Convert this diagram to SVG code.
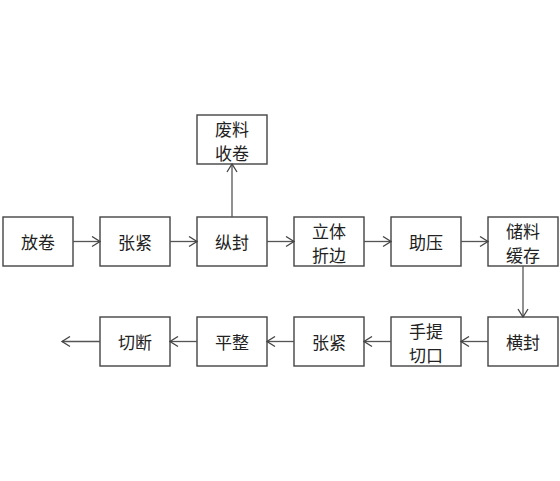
<svg xmlns="http://www.w3.org/2000/svg" width="560" height="481" viewBox="0 0 560 481">
<defs>
<marker id="ah" markerWidth="12" markerHeight="12" refX="10" refY="6" orient="auto" markerUnits="userSpaceOnUse">
<path d="M2,1 L10,6 L2,11" fill="none" stroke="#444" stroke-width="1.3"/>
</marker>
<style>
.b{fill:#fff;stroke:#444;stroke-width:1.4}
.t{font-family:"Noto Sans CJK SC","Noto Sans",sans-serif;font-size:17px;fill:#222;text-anchor:middle;dominant-baseline:central}
.c{fill:none;stroke:#555;stroke-width:1.3;marker-end:url(#ah)}
</style>
</defs>
<rect width="560" height="481" fill="#fff"/>
<g id="n1"><rect class="b" x="3" y="217" width="70" height="49"/><text class="t" x="38" y="241.5">放卷</text></g>
<g id="n2"><rect class="b" x="100" y="217" width="70" height="49"/><text class="t" x="135" y="241.5">张紧</text></g>
<g id="n3"><rect class="b" x="197" y="217" width="70" height="49"/><text class="t" x="232" y="241.5">纵封</text></g>
<g id="n4"><rect class="b" x="197" y="115" width="70" height="49"/><text class="t" x="232" y="128">废料</text><text class="t" x="232" y="152">收卷</text></g>
<g id="n5"><rect class="b" x="294" y="217" width="70" height="49"/><text class="t" x="329" y="230">立体</text><text class="t" x="329" y="254">折边</text></g>
<g id="n6"><rect class="b" x="391" y="217" width="70" height="49"/><text class="t" x="426" y="241.5">助压</text></g>
<g id="n7"><rect class="b" x="488" y="217" width="70" height="49"/><text class="t" x="523" y="230">储料</text><text class="t" x="523" y="254">缓存</text></g>
<g id="n8"><rect class="b" x="488" y="317" width="70" height="49"/><text class="t" x="523" y="341.5">横封</text></g>
<g id="n9"><rect class="b" x="391" y="317" width="70" height="49"/><text class="t" x="426" y="330">手提</text><text class="t" x="426" y="354">切口</text></g>
<g id="n10"><rect class="b" x="294" y="317" width="70" height="49"/><text class="t" x="329" y="341.5">张紧</text></g>
<g id="n11"><rect class="b" x="197" y="317" width="70" height="49"/><text class="t" x="232" y="341.5">平整</text></g>
<g id="n12"><rect class="b" x="100" y="317" width="70" height="49"/><text class="t" x="135" y="341.5">切断</text></g>
<g id="connectors">
<line class="c" x1="73" y1="241.5" x2="100" y2="241.5"/>
<line class="c" x1="170" y1="241.5" x2="197" y2="241.5"/>
<line class="c" x1="232" y1="217" x2="232" y2="164"/>
<line class="c" x1="267" y1="241.5" x2="294" y2="241.5"/>
<line class="c" x1="364" y1="241.5" x2="391" y2="241.5"/>
<line class="c" x1="461" y1="241.5" x2="488" y2="241.5"/>
<line class="c" x1="523" y1="266" x2="523" y2="317"/>
<line class="c" x1="488" y1="341.5" x2="461" y2="341.5"/>
<line class="c" x1="391" y1="341.5" x2="364" y2="341.5"/>
<line class="c" x1="294" y1="341.5" x2="267" y2="341.5"/>
<line class="c" x1="197" y1="341.5" x2="170" y2="341.5"/>
<line class="c" x1="100" y1="341.5" x2="62" y2="341.5"/>
</g>
</svg>
